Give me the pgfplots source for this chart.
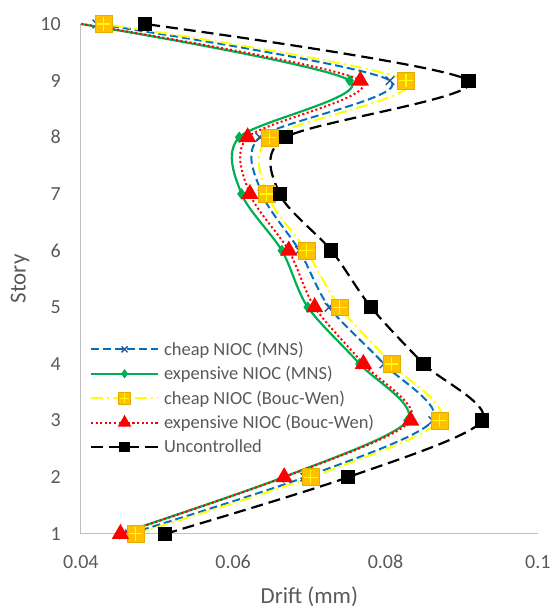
\documentclass[border=0pt]{standalone}
\usepackage{fontspec}
\setmainfont{Carlito}
\usepackage{pgfplots}
\pgfplotsset{compat=1.18}
\usetikzlibrary{plotmarks}
\definecolor{txtgray}{RGB}{89,89,89}
\definecolor{axgray}{RGB}{191,191,191}
\definecolor{cblue}{RGB}{0,112,192}
\definecolor{cxblue}{RGB}{47,85,151}
\definecolor{cgreen}{RGB}{0,176,80}
\definecolor{cyellow}{RGB}{255,255,0}
\definecolor{corange}{RGB}{255,192,0}
\definecolor{cred}{RGB}{255,0,0}
\pgfdeclareplotmark{orangeplus}{%
  \pgfpathrectangle{\pgfpoint{-\pgfplotmarksize}{-\pgfplotmarksize}}{\pgfpoint{2\pgfplotmarksize}{2\pgfplotmarksize}}%
  \pgfsetfillcolor{corange}\pgfsetstrokecolor{corange!90!black}\pgfsetlinewidth{0.4pt}\pgfusepath{fill,stroke}%
  \pgfsetstrokecolor{cyellow}\pgfsetlinewidth{1.3pt}\pgfsetdash{}{0pt}%
  \pgfpathmoveto{\pgfpoint{-0.8\pgfplotmarksize}{0pt}}\pgfpathlineto{\pgfpoint{0.8\pgfplotmarksize}{0pt}}%
  \pgfpathmoveto{\pgfpoint{0pt}{-0.8\pgfplotmarksize}}\pgfpathlineto{\pgfpoint{0pt}{0.8\pgfplotmarksize}}%
  \pgfusepath{stroke}%
}
\begin{document}
\begin{tikzpicture}
\begin{axis}[
  scale only axis,
  width=458pt, height=511pt,
  xmin=0.04, xmax=0.1, ymin=1, ymax=10,
  xtick={0.04,0.06,0.08,0.1},
  xticklabels={0.04,0.06,0.08,0.1},
  ytick={1,2,...,10},
  axis x line*=bottom, axis y line*=left,
  axis line style={axgray, line width=1pt, -},
  major tick length=0pt,
  tick label style={font=\fontsize{20}{24}\selectfont, text=txtgray, inner sep=0pt},
  /pgf/number format/assume math mode=true,
  xticklabel style={anchor=center, yshift=-28pt},
  yticklabel style={anchor=east, xshift=-20pt},
  xlabel={Drift (mm)}, ylabel={Story},
  label style={font=\fontsize{23}{27}\selectfont, text=txtgray},
  xlabel style={at={(axis description cs:0.5,-0.1233)}, anchor=center},
  ylabel style={at={(axis description cs:-0.1332,0.5)}, anchor=center},
  clip=false,
  legend cell align=left,
  legend style={draw=none, fill=none, inner sep=0pt, at={(rel axis cs:0.0197,0.266)}, anchor=west,
    font=\fontsize{18.5}{22}\selectfont, text=txtgray, row sep=0pt,
    nodes={inner ysep=0pt, inner xsep=5pt, minimum height=24.5pt}},
  legend image code/.code={%
    \draw[#1, mark indices={2}, every mark/.append style={scale=0.72}] plot coordinates {(0pt,0pt) (33.5pt,0pt) (67pt,0pt)};},
]
\addplot[cblue, line width=2pt, dash pattern=on 8pt off 4pt, smooth,
  mark=x, mark size=6pt, mark options={cxblue, solid, line width=1.4pt}]
  coordinates {(0.0464,1) (0.0694,2) (0.0862,3) (0.0798,4) (0.0726,5) (0.0687,6) (0.0638,7) (0.0635,8) (0.0806,9) (0.0421,10)};
\addlegendentry{cheap NIOC (MNS)}
\addplot[cgreen, line width=2.2pt, smooth, mark indices={1,...,9},
  mark=diamond*, mark size=4pt, mark options={cgreen, solid, fill=cgreen}]
  coordinates {(0.0451,1) (0.0666,2) (0.0829,3) (0.0766,4) (0.0698,5) (0.0664,6) (0.0611,7) (0.0608,8) (0.0753,9) (0.0400,10)};
\addlegendentry{expensive NIOC (MNS)}
\addplot[cyellow, line width=2pt, dash pattern=on 12pt off 4pt on 2pt off 4pt, smooth,
  mark=orangeplus, mark size=8.5pt, mark options={solid}]
  coordinates {(0.0472,1) (0.0702,2) (0.0871,3) (0.0808,4) (0.0740,5) (0.0696,6) (0.0644,7) (0.0648,8) (0.0827,9) (0.0430,10)};
\addlegendentry{cheap NIOC (Bouc-Wen)}
\addplot[cred, line width=2pt, dash pattern=on 2pt off 2.6pt, smooth, mark indices={1,...,9},
  mark=triangle*, mark size=8pt, mark options={cred, solid, fill=cred}]
  coordinates {(0.0452,1) (0.0667,2) (0.0833,3) (0.0771,4) (0.0707,5) (0.0673,6) (0.0622,7) (0.0619,8) (0.0767,9) (0.0401,10)};
\addlegendentry{expensive NIOC (Bouc-Wen)}
\addplot[black, line width=2.2pt, dash pattern=on 12pt off 6pt, smooth,
  mark=square*, mark size=6pt, mark options={black, solid, fill=black}]
  coordinates {(0.0511,1) (0.0751,2) (0.0927,3) (0.0850,4) (0.0781,5) (0.0729,6) (0.0661,7) (0.0669,8) (0.0909,9) (0.0484,10)};
\addlegendentry{Uncontrolled}
\end{axis}
\path[use as bounding box] (current axis.south west) ++(-81pt,-75pt) rectangle ++(555pt,610pt);
\end{tikzpicture}
\end{document}
